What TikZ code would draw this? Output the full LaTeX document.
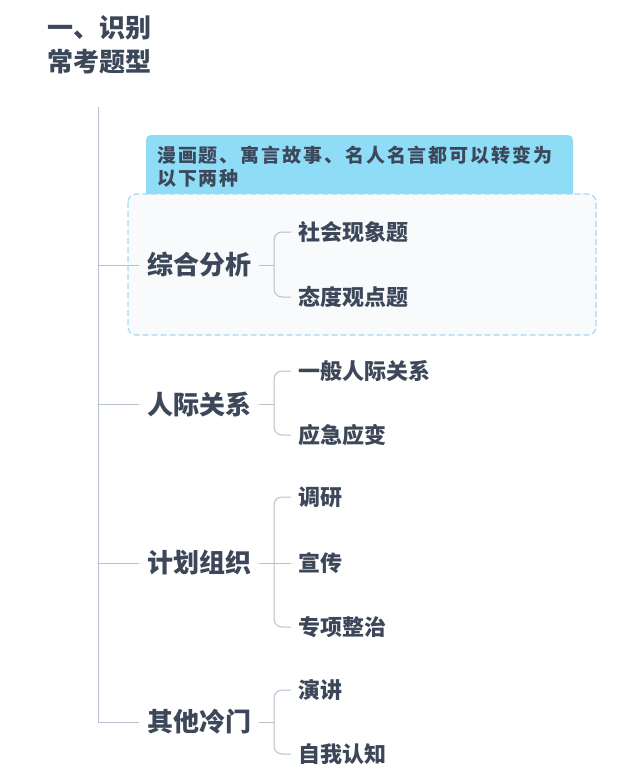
\documentclass[tikz,border=0pt]{standalone}
\usepackage{fontspec}
\newfontfamily\cjk{Noto Sans CJK SC}
\newfontfamily\cjkls[LetterSpace=10]{Noto Sans CJK SC}
\definecolor{txt}{HTML}{3C4859}
\definecolor{ln}{HTML}{B8C1CD}
\definecolor{blu}{HTML}{8FDCF7}
\definecolor{dsh}{HTML}{A6DAEE}
\definecolor{dfill}{HTML}{F8FAFC}
\begin{document}
\begin{tikzpicture}[x=1pt,y=-1pt,
 title/.style={font=\cjk\bfseries\fontsize{26}{34}\selectfont, text=txt, anchor=west, inner sep=0},
 lvl/.style={font=\cjk\bfseries\fontsize{26}{30}\selectfont, text=txt, anchor=west, inner xsep=8pt, inner ysep=0},
 leaf/.style={font=\cjk\bfseries\fontsize{22}{26}\selectfont, text=txt, anchor=west, inner xsep=7pt, inner ysep=0},
 notetext/.style={font=\cjkls\bfseries\fontsize{19}{23}\selectfont, text=txt, anchor=west, inner sep=0},
 conn/.style={draw=ln, line width=1pt},
 brk/.style={conn, rounded corners=8pt}]
\useasboundingbox (0,0) rectangle (618,784);
\fill[white] (0,0) rectangle (618,784);
% title
\node[title] (title1) at (47,28) {一、识别};
\node[title] (title2) at (47,62) {常考题型};
% note box and dashed group
\fill[blu, rounded corners=5pt] (146,135) rectangle (573,210);
\node[notetext] (note1) at (157,155) {漫画题、寓言故事、名人名言都可以转变为};
\node[notetext] (note2) at (157,178) {以下两种};
\draw[dsh, fill=dfill, line width=1.2pt, dash pattern=on 6pt off 3pt, rounded corners=8pt] (128,194) rectangle (596,335);
% trunk
\coordinate (top) at (98,107);
\coordinate (bot) at (98,722);
\draw[conn] (top) -- (bot);
% level 1
\node[lvl] (L1) at (139,265) {综合分析};
\node[lvl] (L2) at (139,404) {人际关系};
\node[lvl] (L3) at (139,563) {计划组织};
\node[lvl] (L4) at (139,722) {其他冷门};
\coordinate (t1) at (98,265);
\coordinate (t2) at (98,404);
\coordinate (t3) at (98,563);
\draw[conn] (t1) -- (L1.west);
\draw[conn] (t2) -- (L2.west);
\draw[conn] (t3) -- (L3.west);
\draw[conn] (bot) -- (L4.west);
% leaves
\node[leaf] (C11) at (291,232) {社会现象题};
\node[leaf] (C12) at (291,297) {态度观点题};
\node[leaf] (C21) at (291,371) {一般人际关系};
\node[leaf] (C22) at (291,435) {应急应变};
\node[leaf] (C31) at (291,497) {调研};
\node[leaf] (C32) at (291,563) {宣传};
\node[leaf] (C33) at (291,627) {专项整治};
\node[leaf] (C41) at (291,690) {演讲};
\node[leaf] (C42) at (291,754) {自我认知};
% brackets
\coordinate (h1) at (274,265);
\coordinate (h2) at (274,404);
\coordinate (h3) at (274,563);
\coordinate (h4) at (274,722);
\draw[conn] (L1.east) -- (h1);
\draw[conn] (L2.east) -- (h2);
\draw[conn] (L3.east) -- (h3);
\draw[conn] (L4.east) -- (h4);
\draw[brk] (h1) |- (C11.west);
\draw[brk] (h1) |- (C12.west);
\draw[brk] (h2) |- (C21.west);
\draw[brk] (h2) |- (C22.west);
\draw[brk] (h3) |- (C31.west);
\draw[conn] (h3) -- (C32.west);
\draw[brk] (h3) |- (C33.west);
\draw[brk] (h4) |- (C41.west);
\draw[brk] (h4) |- (C42.west);
\end{tikzpicture}
\end{document}
